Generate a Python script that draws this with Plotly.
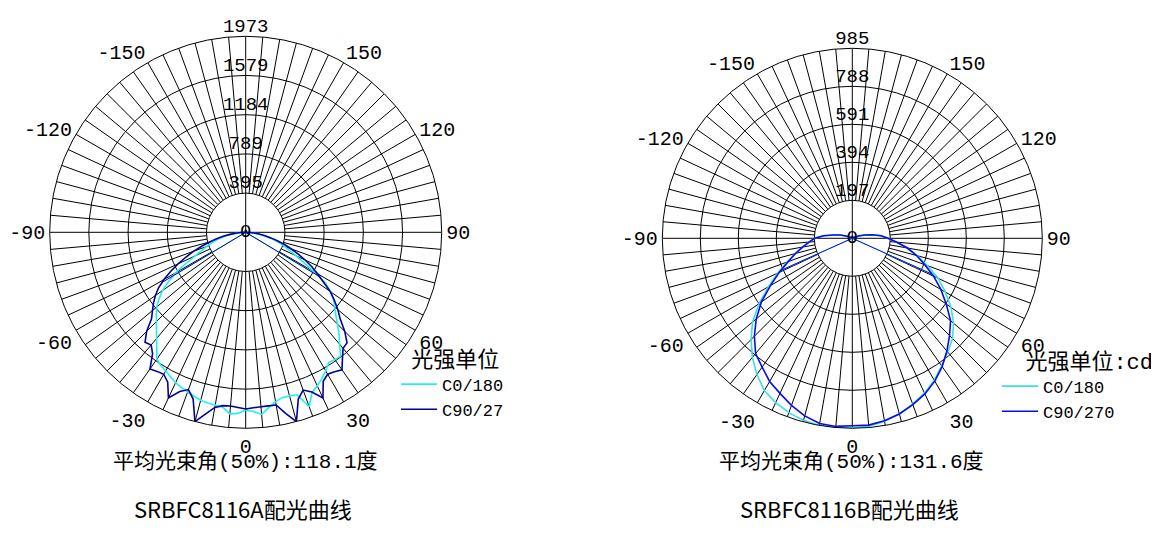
import numpy as np
import plotly.graph_objects as go

# ---------------- data ----------------
# Left chart: SRBFC8116A (gamma angle, degrees; intensity, cd)
A_angles = list(np.arange(-90, 90.01, 2.5))
A_c0 = [0, 40, 85, 135, 190, 250, 310, 365, 420, 480, 560, 680, 810, 920, 1020, 1100,
        1170, 1220, 1270, 1330, 1395, 1470, 1560, 1590, 1610, 1640, 1670, 1690, 1710,
        1730, 1750, 1760, 1765, 1775, 1835, 1825, 1790,
        1805, 1840, 1780, 1730, 1705, 1705, 1715, 1869, 1745, 1705, 1660, 1610, 1555,
        1565, 1570, 1470, 1390, 1305, 1230, 1170, 1115, 1045, 950, 790, 660, 560, 480,
        420, 360, 300, 240, 180, 125, 80, 35, 0]
A_c90 = [0, 50, 100, 160, 230, 300, 370, 460, 560, 650, 750, 850, 950, 1040, 1110, 1170,
         1225, 1285, 1410, 1500, 1480, 1540, 1680, 1660, 1650, 1700, 1840, 1735, 1685,
         1760, 1973, 1875, 1790, 1760, 1755, 1765, 1778,
         1768, 1763, 1762, 1765, 1870, 1973, 1760, 1690, 1740, 1840, 1690, 1650, 1665,
         1690, 1600, 1525, 1510, 1410, 1290, 1210, 1125, 1040, 925, 835, 750, 660, 570,
         485, 410, 330, 260, 190, 135, 85, 40, 0]
A_rticks = [395, 789, 1184, 1579, 1973]
A_rmax = 1973
A_beam = 118.1
A_title = "SRBFC8116A配光曲线"

# Right chart: SRBFC8116B
B_angles = list(np.arange(-120, 120.01, 5))
B_c0 = [0, 15, 35, 65, 100, 150, 195, 225, 262, 305, 360, 428, 502, 590, 675, 742, 806,
        862, 912, 940, 962, 977, 985, 985, 982,
        978, 963, 942, 915, 886, 850, 808, 770, 735, 685, 625, 556, 492, 415, 350, 290,
        232, 185, 150, 105, 65, 35, 15, 0]
B_c90 = [0, 15, 35, 65, 100, 150, 195, 225, 262, 305, 353, 418, 490, 575, 650, 718, 780,
         815, 857, 887, 922, 953, 975, 979, 972,
         972, 961, 943, 918, 890, 855, 812, 763, 713, 665, 595, 530, 465, 400, 345, 290,
         232, 185, 150, 105, 65, 35, 15, 0]
B_rticks = [197, 394, 591, 788, 985]
B_rmax = 985
B_beam = 131.6
B_title = "SRBFC8116B配光曲线"

ang_tickvals = [0, 30, 60, 90, 120, 150, 180, 210, 240, 270, 300, 330]
ang_ticktext = ["0", "30", "60", "90", "120", "150", "", "-150", "-120", "-90", "-60", "-30"]

MONO = "Liberation Mono"
CJK = "Noto Sans CJK SC"
MIX = MONO + ", " + CJK
NB = "\u00a0"

# page is offset by the default 8px body margin
OFF = 8
W, H = 1151, 531


def px(X):
    return (X - OFF) / W


def py(Y):
    return 1 - (Y - OFF) / H


fig = go.Figure()


def add_chart(polar, legend, angles, c0, c90, rticks, rmax, beam, col0, col90, name90):
    # spokes every 5 degrees
    th, rr = [], []
    for a in range(0, 360, 5):
        th += [a, a, None]
        rr += [0 if a % 90 == 0 else rticks[0], rmax, None]
    fig.add_trace(go.Scatterpolar(theta=th, r=rr, mode="lines", subplot=polar,
                                  line=dict(color="black", width=1),
                                  showlegend=False, hoverinfo="skip"))
    half = beam / 2.0
    for vals, col, name in ((c0, col0, "C0/180"), (c90, col90, name90)):
        fig.add_trace(go.Scatterpolar(theta=angles, r=vals, mode="lines", subplot=polar,
                                      line=dict(color=col, width=1.6), name=name,
                                      legend=legend, hoverinfo="skip"))
        rl = float(np.interp(-half, angles, vals))
        rh = float(np.interp(half, angles, vals))
        fig.add_trace(go.Scatterpolar(theta=[-half, 0, half], r=[rl, 0, rh], mode="lines",
                                      subplot=polar, line=dict(color=col, width=1),
                                      showlegend=False, hoverinfo="skip"))
    # radial labels along the 180 line
    fig.add_trace(go.Scatterpolar(theta=[180] * (len(rticks) + 1), r=[0] + rticks,
                                  mode="text", text=["0"] + [str(v) for v in rticks],
                                  textposition=["middle center"] + ["top center"] * len(rticks),
                                  textfont=dict(family=MONO, size=19, color="black"),
                                  subplot=polar, showlegend=False, cliponaxis=False,
                                  hoverinfo="skip"))


add_chart("polar", "legend", A_angles, A_c0, A_c90, A_rticks, A_rmax, A_beam,
          "#22F0F0", "#00009C", "C90/27")
add_chart("polar2", "legend2", B_angles, B_c0, B_c90, B_rticks, B_rmax, B_beam,
          "#38E0E0", "#0A0AF0", "C90/270")


def polar_layout(cx, cy, rad, rmax, rticks):
    return dict(
        domain=dict(x=[px(cx - rad), px(cx + rad)], y=[py(cy + rad), py(cy - rad)]),
        bgcolor="white",
        radialaxis=dict(range=[0, rmax], tickmode="array", tickvals=rticks, showticklabels=False,
                        ticks="", showline=False, gridcolor="black", gridwidth=1, angle=90),
        angularaxis=dict(rotation=-90, direction="counterclockwise",
                         tickmode="array", tickvals=ang_tickvals, ticktext=ang_ticktext,
                         showgrid=False, showline=True, linecolor="black", linewidth=1, ticks="",
                         tickfont=dict(family=MONO, size=20, color="black")),
    )


fig.update_layout(
    width=W, height=H, autosize=False,
    margin=dict(l=0, r=0, t=0, b=0),
    paper_bgcolor="white", plot_bgcolor="white",
    polar=polar_layout(245.7, 232.3, 196, A_rmax, A_rticks),
    polar2=polar_layout(852.3, 238.3, 190, B_rmax, B_rticks),
    legend=dict(x=px(396), y=py(338), xanchor="left", yanchor="top",
                bgcolor="rgba(0,0,0,0)", tracegroupgap=0, itemwidth=36,
                title=dict(text=NB + "光强单位", font=dict(family=MIX, size=22, color="black")),
                font=dict(family=MONO, size=17, color="black")),
    legend2=dict(x=px(997), y=py(340), xanchor="left", yanchor="top",
                 bgcolor="rgba(0,0,0,0)", tracegroupgap=0, itemwidth=36,
                 title=dict(text=NB + NB + "光强单位:cd", font=dict(family=MIX, size=22, color="black")),
                 font=dict(family=MONO, size=17, color="black")),
    showlegend=True,
)

for cx, beam, title in ((245, A_beam, A_title), (851, B_beam, B_title)):
    fig.add_annotation(x=px(cx), y=py(462), xref="paper", yref="paper", showarrow=False,
                       xanchor="center", yanchor="middle",
                       text="平均光束角(50%%):%.1f度" % beam,
                       font=dict(family=MIX, size=21, color="black"))
    fig.add_annotation(x=px(cx - 2), y=py(508), xref="paper", yref="paper", showarrow=False,
                       xanchor="center", yanchor="middle",
                       text=title, font=dict(family=CJK, size=22, color="black"))

fig.write_html("out.html")
